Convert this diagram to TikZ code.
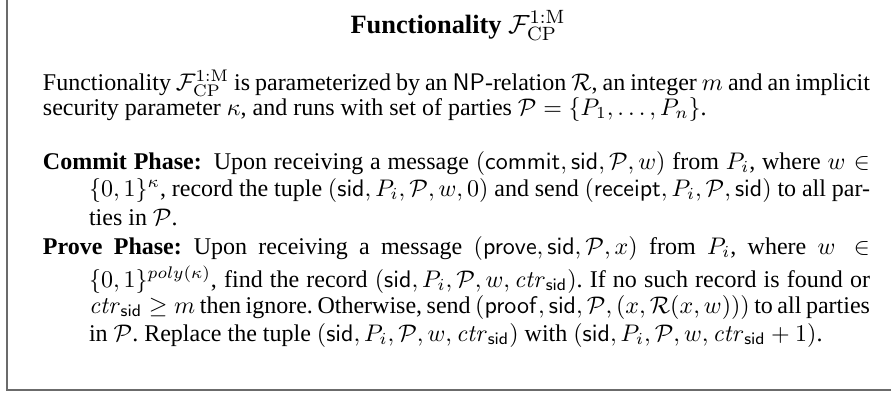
\documentclass[tikz,border=0pt]{standalone}
\usepackage[no-math]{fontspec}
\setmainfont{Liberation Serif}
\newlength\pxu
\setlength\pxu{0.41667pt}
\newcommand\FCP{\mathcal{F}_{\mathrm{CP}}^{1:\mathrm{M}}}
\newcommand\cP{\mathcal{P}}
\newcommand\ctr{\mathit{ctr}_{\mathsf{sid}}}
\newcommand\jline[2]{\hbox to #1\pxu{#2}}
\frenchspacing
\tikzset{
  frame/.style={draw=black!58, line width=2\pxu},
  txt/.style={anchor=base west, inner sep=0pt, outer sep=0pt, font=\fontsize{10}{12}\selectfont},
}
\begin{document}
\begin{tikzpicture}[x=\pxu, y=-\pxu]
\useasboundingbox (0,0) rectangle (891,392);
\draw[frame] (6.5,0) -- (6.5,390) -- (891,390);
\node[anchor=base, inner sep=0pt, font=\fontsize{11}{13.5}\selectfont\bfseries] (title) at (458,33) {Functionality $\FCP$};
\node[txt] (p1) at (43,90) {\jline{827}{Functionality $\FCP$ is parameterized by an $\mathsf{NP}$-relation $\mathcal{R}$, an integer $m$ and an implicit}};
\node[txt] (p2) at (43,115) {security parameter $\kappa$, and runs with set of parties $\cP=\{P_1,\ldots,P_n\}$.};
\node[txt] (c1) at (43,169) {\jline{827}{\textbf{Commit Phase:}\enspace Upon receiving a message $(\mathsf{commit},\mathsf{sid},\cP,w)$ from $P_i$, where $w\in$}};
\node[txt] (c2) at (89,196) {\jline{781}{$\{0,1\}^{\kappa}$, record the tuple $(\mathsf{sid},P_i,\cP,w,0)$ and send $(\mathsf{receipt},P_i,\cP,\mathsf{sid})$ to all par-}};
\node[txt] (c3) at (89,225) {ties in $\cP$.};
\node[txt] (v1) at (43,254) {\jline{827}{\textbf{Prove Phase:}\enspace Upon receiving a message $(\mathsf{prove},\mathsf{sid},\cP,x)$ from $P_i$, where $w\in$}};
\node[txt] (v2) at (89,287) {\jline{781}{$\{0,1\}^{poly(\kappa)}$, find the record $(\mathsf{sid},P_i,\cP,w,\ctr)$. If no such record is found or}};
\node[txt] (v3) at (89,313) {\jline{781}{$\ctr\geq m$ then ignore. Otherwise, send $(\mathsf{proof},\mathsf{sid},\cP,(x,\mathcal{R}(x,w)))$ to all parties}};
\node[txt] (v4) at (89,341) {in $\cP$. Replace the tuple $(\mathsf{sid},P_i,\cP,w,\ctr)$ with $(\mathsf{sid},P_i,\cP,w,\ctr+1)$.};
\end{tikzpicture}
\end{document}
